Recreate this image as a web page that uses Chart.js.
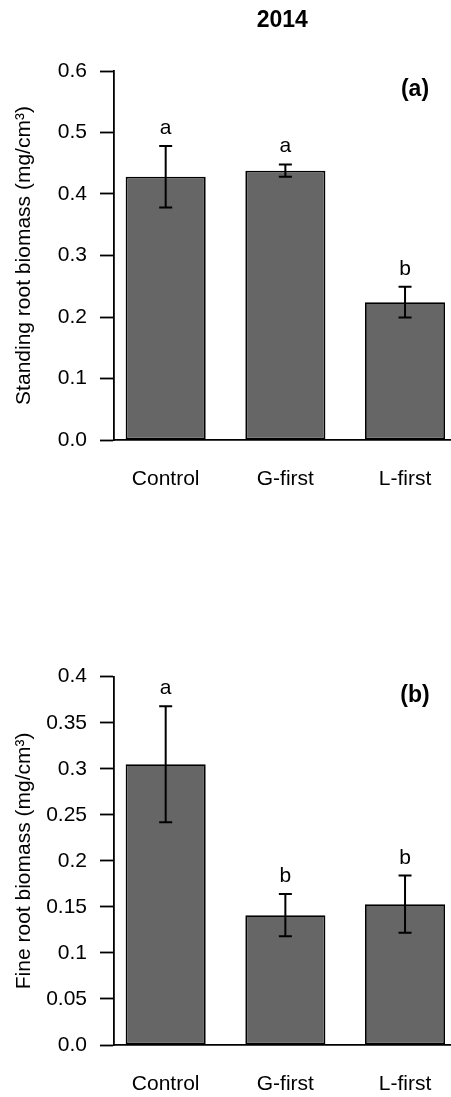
<!DOCTYPE html>
<html>
<head>
<meta charset="utf-8">
<script src="https://cdn.jsdelivr.net/npm/chart.js@4.4.1/dist/chart.umd.min.js"></script>
<style>
  html, body { margin: 0; padding: 0; background: #fff; overflow: hidden; }
  .painel { position: absolute; left: 0; width: 451px; }
  #painel-a { top: 0; height: 500px; }
  #painel-b { top: 500px; height: 597px; }
</style>
</head>
<body>
<div class="painel" id="painel-a"><canvas id="graficoA"></canvas></div>
<div class="painel" id="painel-b"><canvas id="graficoB"></canvas></div>
<script>
const FONTE = '"Liberation Sans", Arial, sans-serif';
const TAM = 21;

const categorias = ['Control', 'G-first', 'L-first'];

// (a) standing root biomass
const standingMedia = [0.428, 0.438, 0.224];
const standingErro = [0.050, 0.010, 0.025];
const standingLetras = ['a', 'a', 'b'];
const standingTicks = [0, 0.1, 0.2, 0.3, 0.4, 0.5, 0.6];
const standingTickLabels = ['0.0', '0.1', '0.2', '0.3', '0.4', '0.5', '0.6'];

// (b) fine root biomass
const fineMedia = [0.305, 0.141, 0.153];
const fineErro = [0.063, 0.023, 0.031];
const fineLetras = ['a', 'b', 'b'];
const fineTicks = [0, 0.05, 0.1, 0.15, 0.2, 0.25, 0.3, 0.35, 0.4];
const fineTickLabels = ['0.0', '0.05', '0.1', '0.15', '0.2', '0.25', '0.3', '0.35', '0.4'];

// barras de erro, letras de significância e rótulo do painel
const pluginErro = {
    id: 'barrasErro',
    afterDatasetsDraw(chart, args, opts) {
        const { ctx, chartArea } = chart;
        const y = chart.scales.y;
        const pontos = chart.data.datasets[0].data;
        ctx.save();
        ctx.strokeStyle = '#000';
        ctx.fillStyle = '#000';
        ctx.lineWidth = 2;
        ctx.font = `${TAM}px ${FONTE}`;
        ctx.textAlign = 'center';
        ctx.textBaseline = 'alphabetic';
        chart.getDatasetMeta(0).data.forEach((barra, i) => {
            const topo = y.getPixelForValue(pontos[i].y + opts.erro[i]);
            const base = y.getPixelForValue(pontos[i].y - opts.erro[i]);
            ctx.beginPath();
            ctx.moveTo(barra.x, topo); ctx.lineTo(barra.x, base);
            ctx.moveTo(barra.x - 6.5, topo); ctx.lineTo(barra.x + 6.5, topo);
            ctx.moveTo(barra.x - 6.5, base); ctx.lineTo(barra.x + 6.5, base);
            ctx.stroke();
            ctx.fillText(opts.letras[i], barra.x, topo - 12);
        });
        ctx.font = `bold 23px ${FONTE}`;
        ctx.textBaseline = 'middle';
        ctx.fillText(opts.rotulo, chartArea.right - 36, chartArea.top + 19);
        ctx.restore();
    }
};

function criarGrafico(id, cfg) {
    const ctx = document.getElementById(id).getContext('2d');
    return new Chart(ctx, {
        type: 'bar',
        data: {
            datasets: [{
                data: cfg.media.map((v, i) => ({ x: i, y: v })),
                backgroundColor: '#666666',
                borderColor: '#000',
                borderWidth: 1.8,
                borderSkipped: false,
                barPercentage: 0.669,
                categoryPercentage: 1
            }]
        },
        options: {
            responsive: true,
            maintainAspectRatio: false,
            animation: false,
            layout: { padding: { top: cfg.topo, left: 0, right: 0, bottom: 0 } },
            plugins: {
                legend: { display: false },
                tooltip: { enabled: false },
                title: cfg.titulo ? {
                    display: true,
                    text: cfg.titulo,
                    fullSize: false,
                    color: '#000',
                    font: { family: FONTE, size: 23, weight: 'bold' },
                    padding: { top: 7, bottom: 36.4 }
                } : { display: false },
                barrasErro: { erro: cfg.erro, letras: cfg.letras, rotulo: cfg.rotulo }
            },
            scales: {
                x: {
                    type: 'linear',
                    offset: false,
                    min: -0.436,
                    max: 2.384,
                    afterBuildTicks: s => { s.ticks = categorias.map((c, i) => ({ value: i })); },
                    afterFit: s => { s.height = cfg.alturaX; s.paddingLeft = 0; s.paddingRight = 0; },
                    grid: { display: false, drawTicks: false, offset: false },
                    border: { display: true, color: '#000', width: 1.8 },
                    ticks: {
                        color: '#000',
                        padding: 27,
                        font: { family: FONTE, size: TAM },
                        callback: v => categorias[v]
                    }
                },
                y: {
                    min: 0,
                    max: cfg.ticks[cfg.ticks.length - 1],
                    afterBuildTicks: s => { s.ticks = cfg.ticks.map(v => ({ value: v })); },
                    afterFit: s => { s.width = 113.5; },
                    grid: {
                        display: true,
                        drawOnChartArea: false,
                        drawTicks: true,
                        tickLength: 13.5,
                        tickWidth: 1.8,
                        tickColor: '#000'
                    },
                    border: { display: true, color: '#000', width: 1.8 },
                    ticks: {
                        color: '#000',
                        padding: 13,
                        font: { family: FONTE, size: TAM },
                        callback: (v, i) => cfg.tickLabels[i]
                    },
                    title: {
                        display: true,
                        text: cfg.tituloY,
                        color: '#000',
                        font: { family: FONTE, size: TAM },
                        padding: { top: 12, bottom: 0 }
                    }
                }
            }
        },
        plugins: [pluginErro]
    });
}

criarGrafico('graficoA', {
    media: standingMedia, erro: standingErro, letras: standingLetras,
    ticks: standingTicks, tickLabels: standingTickLabels,
    tituloY: 'Standing root biomass (mg/cm³)', titulo: '2014', rotulo: '(a)',
    topo: 0, alturaX: 60
});

criarGrafico('graficoB', {
    media: fineMedia, erro: fineErro, letras: fineLetras,
    ticks: fineTicks, tickLabels: fineTickLabels,
    tituloY: 'Fine root biomass (mg/cm³)', titulo: null, rotulo: '(b)',
    topo: 176.7, alturaX: 52
});
</script>
</body>
</html>
